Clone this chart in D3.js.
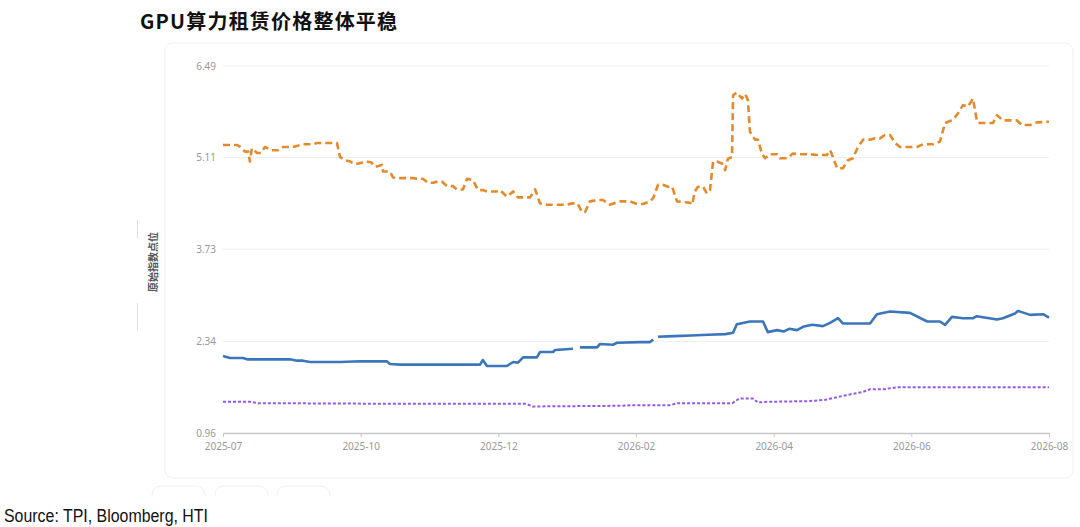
<!DOCTYPE html>
<html><head><meta charset="utf-8">
<script src="https://cdn.jsdelivr.net/npm/d3@7/dist/d3.min.js"></script>
<style>html,body{margin:0;padding:0;background:#fff;}svg{display:block;}</style>
</head><body>
<svg id="chart" width="1080" height="527"></svg>
<script>
const titleText = "GPU算力租赁价格整体平稳";
const sourceText = "Source: TPI, Bloomberg, HTI";
const yAxisTitle = "原始指数点位";
const tickLabels = ["2025-07","2025-10","2025-12","2026-02","2026-04","2026-06","2026-08"];
const tickPos = [0, 40, 80, 120, 160, 200, 240];
const yTicks = [0.96, 2.34, 3.73, 5.11, 6.49];

// orange series (dashed): time position and index value
const orangeT = [0,4,5,6.4,7.4,7.8,8.4,9.9,11,12.2,14.2,16,17.4,20.3,23.2,26.2,27.3,33.1,34,35.4,37,38.4,40,41.3,43,44.2,46.2,46.5,48.5,49.4,50.6,55.2,56.4,58.1,59.6,61,62.5,63.6,65.1,66.8,68,69.7,70.9,72.6,74.1,75.5,76.7,79.6,80.5,82.5,84.3,85.7,89.2,90.7,92.1,94.1,100,101.4,103,104.3,105.2,106.6,108.7,110.4,112.4,115.4,118.3,120.3,122,124.1,125,126.4,127.8,129.3,130.5,131.9,135.7,136.3,137.1,138,139.5,140.6,141.5,142.4,143.5,145,145.9,146.7,147.9,148.2,149.3,150.8,151.7,152.5,153.1,154.6,155.4,156.6,157.5,158.9,161,161.8,163.9,165.6,167.6,170.5,172.6,175.5,176.4,177.2,178.4,180.1,181.6,183,184.5,186,188,189.4,190.9,192.3,193.8,195.3,196.7,201.6,203.4,206.3,208.3,209.8,212.1,213.6,215,216.5,217.9,219.1,220,223.7,224.9,226.6,230.7,232.2,234.5,236.5,240];
const orangeV = [5.30,5.30,5.27,5.20,5.20,5.05,5.25,5.18,5.18,5.27,5.22,5.22,5.27,5.27,5.31,5.31,5.33,5.33,5.12,5.07,5.05,5.01,5.03,5.05,5.04,4.97,5.00,4.90,4.90,4.81,4.80,4.80,4.79,4.79,4.73,4.73,4.75,4.75,4.68,4.68,4.63,4.63,4.79,4.77,4.62,4.62,4.60,4.60,4.62,4.52,4.60,4.51,4.51,4.63,4.42,4.40,4.40,4.42,4.42,4.29,4.29,4.45,4.47,4.47,4.40,4.45,4.45,4.41,4.41,4.45,4.50,4.70,4.70,4.67,4.67,4.45,4.43,4.40,4.60,4.67,4.67,4.57,4.62,5.05,5.05,5.02,4.92,5.09,5.12,6.05,6.09,6.00,6.07,5.98,5.50,5.38,5.38,5.17,5.10,5.16,5.16,5.10,5.10,5.17,5.16,5.16,5.15,5.15,5.22,5.12,4.95,4.95,5.07,5.10,5.27,5.38,5.38,5.40,5.40,5.45,5.45,5.33,5.27,5.27,5.31,5.31,5.35,5.63,5.68,5.78,5.90,5.88,6.00,5.65,5.63,5.63,5.75,5.67,5.67,5.60,5.60,5.64,5.65];

// blue series (solid); null = missing data
const blueT = [0,2,5.8,7,19.5,21.5,23.2,25.3,34,40,47.6,48.5,51.4,74.7,75.5,76.7,82.5,84.3,85.7,87.2,91.2,92.1,95.9,96.5,101.7,102.3,103.7,108.7,109.5,113.3,114.5,121.2,124.1,125,125.7,126.4,131,136,141,146,148.2,149.3,153.1,156.9,158.3,161,163,164.5,166.8,168.5,171.2,174.3,176.4,178.7,180.1,188,190,193.8,199.6,204.6,208.3,209.8,211.8,215,218,219,224.9,226.6,230.1,231,234.5,238.3,240];
const blueV = [2.12,2.09,2.09,2.07,2.07,2.05,2.05,2.03,2.03,2.04,2.04,2.00,1.99,1.99,2.06,1.97,1.97,2.03,2.02,2.10,2.10,2.18,2.18,2.21,2.23,null,2.25,2.25,2.30,2.29,2.32,2.33,2.33,2.37,null,2.41,2.42,2.43,2.44,2.45,2.47,2.60,2.64,2.64,2.48,2.51,2.49,2.53,2.51,2.56,2.59,2.57,2.62,2.69,2.61,2.61,2.75,2.79,2.77,2.64,2.64,2.59,2.71,2.69,2.69,2.72,2.67,2.69,2.76,2.80,2.74,2.75,2.70,2.70];

// purple series (dotted)
const purpleT = [0,8,10,50,88,90,115,120,130,132,148,150,154,155.4,158,170,175,181,186,188,192,196,240];
const purpleV = [1.43,1.43,1.41,1.40,1.40,1.36,1.37,1.38,1.38,1.41,1.41,1.48,1.48,1.42,1.43,1.44,1.46,1.53,1.58,1.62,1.62,1.65,1.65];

const svg = d3.select("#chart");
const plot = {left: 223, right: 1049, top: 66, bottom: 433};

const x = d3.scaleLinear().domain([tickPos[0], tickPos[tickPos.length-1]]).range([plot.left, plot.right]);
const y = d3.scaleLinear().domain([yTicks[0], yTicks[yTicks.length-1]]).range([plot.bottom, plot.top]);

// card
svg.append("rect").attr("x",165).attr("y",43).attr("width",908).attr("height",435)
  .attr("rx",8).attr("fill","#fff").attr("stroke","#f1f1f1").attr("stroke-width",1);

// title
svg.append("text").attr("x",140).attr("y",29).text(titleText)
  .attr("font-family","'Noto Sans CJK SC','Noto Sans',sans-serif").attr("font-weight","bold")
  .attr("font-size",20).attr("letter-spacing",1.2).attr("fill","#111");

// grid
svg.append("g").selectAll("line").data(yTicks.slice(1)).join("line")
  .attr("x1",plot.left).attr("x2",plot.right)
  .attr("y1",d=>y(d)).attr("y2",d=>y(d))
  .attr("stroke","#eeeeee").attr("stroke-width",1);

// y axis labels
const yAxis = d3.axisLeft(y).tickValues(yTicks).tickFormat(d3.format(".2f")).tickSize(0).tickPadding(0);
const gy = svg.append("g").attr("transform",`translate(${plot.left-7},0)`).call(yAxis);
gy.select(".domain").remove();
gy.selectAll("text").attr("font-family","'Noto Sans',sans-serif").attr("font-size",10).attr("fill","#999");

// x axis
const xAxis = d3.axisBottom(x).tickValues(tickPos).tickFormat((d,i)=>tickLabels[i]).tickSize(4).tickSizeOuter(0).tickPadding(6);
const gx = svg.append("g").attr("transform",`translate(0,${plot.bottom})`).call(xAxis);
gx.select(".domain").attr("stroke","#c8c8c8").attr("stroke-width",1.5);
gx.selectAll(".tick line").attr("stroke","#c8c8c8");
gx.selectAll("text").attr("font-family","'Noto Sans',sans-serif").attr("font-size",10).attr("fill","#999");

// y axis title and side marks
svg.append("text").attr("transform","translate(157,262) rotate(-90)")
  .attr("text-anchor","middle").text(yAxisTitle)
  .attr("font-family","'Noto Sans CJK SC',sans-serif").attr("font-size",10).attr("font-weight","bold").attr("fill","#555");
svg.append("line").attr("x1",137.5).attr("x2",137.5).attr("y1",220).attr("y2",238).attr("stroke","#dddddd");
svg.append("line").attr("x1",137.5).attr("x2",137.5).attr("y1",303).attr("y2",330).attr("stroke","#dddddd");

// lines
const line = d3.line().defined(d=>d[1]!==null).x(d=>x(d[0])).y(d=>y(d[1]));
function draw(ts, vs, color, width, dash){
  svg.append("path").datum(ts.map((t,i)=>[t,vs[i]]))
    .attr("d",line).attr("fill","none").attr("stroke",color)
    .attr("stroke-width",width).attr("stroke-dasharray",dash)
    .attr("stroke-linejoin","round");
}
draw(purpleT, purpleV, "#9557ec", 2, "3,2");
draw(blueT, blueV, "#3b76bb", 2.6, null);
draw(orangeT, orangeV, "#e38b2c", 2.6, "7,4");

// legend-like buttons (only tops visible)
const btnX = [152, 215, 277];
svg.append("g").selectAll("path").data(btnX).join("path")
  .attr("d",d=>`M${d},${496} Q${d},${486} ${d+10},${486} L${d+43},${486} Q${d+53},${486} ${d+53},${496}`)
  .attr("fill","none").attr("stroke","#efefef").attr("stroke-width",1);

// source
svg.append("text").attr("x",4).attr("y",522).text(sourceText)
  .attr("font-family","'Liberation Sans Narrow','Liberation Sans',sans-serif")
  .attr("font-size",18).attr("fill","#111")
  .attr("textLength",204).attr("lengthAdjust","spacingAndGlyphs");
</script>
</body></html>
